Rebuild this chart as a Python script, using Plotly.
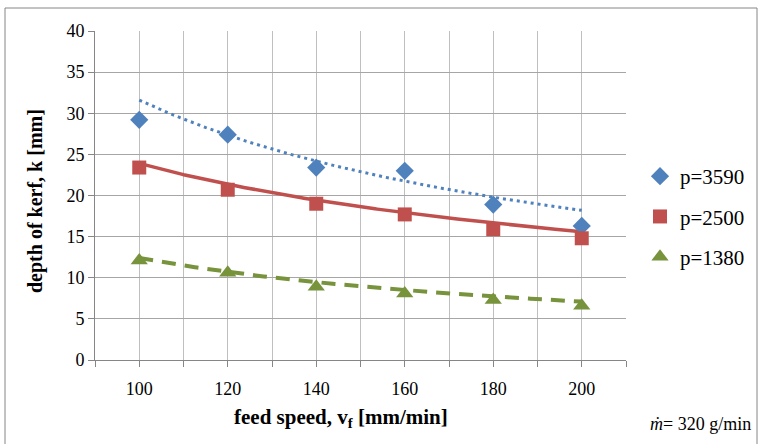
import numpy as np
import plotly.graph_objects as go

# ---- data ----
feed_speed = [100, 120, 140, 160, 180, 200]
p3590 = [29.2, 27.4, 23.4, 23.0, 18.9, 16.3]
p2500 = [23.4, 20.7, 19.0, 17.7, 15.9, 14.8]
p1380 = [12.1, 10.6, 8.9, 8.1, 7.3, 6.6]
series_names = ["p=3590", "p=2500", "p=1380"]
# power trendlines y = k100 * (x/100)^exp, coefficients
trend_k100 = [31.6, 23.9, 12.4]
trend_exp = [-0.796, -0.615, -0.804]
x_ticks = [100, 120, 140, 160, 180, 200]
y_ticks = [0, 5, 10, 15, 20, 25, 30, 35, 40]

W, H = 763, 444
ML, MR, MT, MB = 95, 137, 31, 84
serif = "Liberation Serif"

colors = ["#4F81BD", "#C0504D", "#77933C"]
symbols = ["diamond", "square", "triangle-up"]
sizes = [14, 14, 15]
line_styles = [dict(width=3, dash="3px,4px"), dict(width=3.5, dash="solid"),
               dict(width=4, dash="14px,9px")]

fig = go.Figure()
xs = np.linspace(min(feed_speed), max(feed_speed), 200)
for i in range(3):
    ys = trend_k100[i] * (xs / 100.0) ** trend_exp[i]
    fig.add_trace(go.Scatter(x=xs, y=ys, mode="lines", showlegend=False,
                             hoverinfo="skip",
                             line=dict(color=colors[i], **line_styles[i])))
for i, vals in enumerate([p3590, p2500, p1380]):
    fig.add_trace(go.Scatter(x=feed_speed, y=vals, mode="markers",
                             name=series_names[i], legendgroup=series_names[i],
                             marker=dict(color=colors[i], symbol=symbols[i],
                                         size=sizes[i], line=dict(width=0))))

plot_w = W - ML - MR
plot_h = H - MT - MB
def px2x(px):
    return (px - ML) / plot_w
def px2y(py):
    return 1 - (py - MT) / plot_h

fig.update_layout(
    width=W, height=H,
    margin=dict(l=ML, r=MR, t=MT, b=MB, autoexpand=False),
    paper_bgcolor="white", plot_bgcolor="white",
    font=dict(family=serif, size=18, color="black"),
    showlegend=True,
    legend=dict(x=px2x(640), xanchor="left", y=px2y(216.5), yanchor="middle",
                tracegroupgap=10, itemwidth=30,
                font=dict(family=serif, size=21, color="black"),
                bgcolor="rgba(0,0,0,0)"),
    xaxis=dict(range=[90, 210], tickvals=x_ticks, ticktext=[str(v) for v in x_ticks],
               ticks="", showgrid=True, gridcolor="#BFBFBF", gridwidth=1,
               showline=True, linecolor="#868686", linewidth=1,
               zeroline=False, ticklabelstandoff=12, automargin=False,
               tickfont=dict(family=serif, size=18),
               minor=dict(tick0=90, dtick=10, ticks="outside", ticklen=6,
                          tickcolor="#868686", showgrid=True,
                          gridcolor="#BFBFBF", gridwidth=1)),
    yaxis=dict(range=[0, 40], tickvals=y_ticks, ticks="outside", ticklen=6,
               tickcolor="#868686", showgrid=True, gridcolor="#A6A6A6",
               gridwidth=1, showline=True, linecolor="#868686", linewidth=1,
               zeroline=False, automargin=False, tickfont=dict(family=serif, size=18)),
    annotations=[
        dict(text="<b>feed speed, v<sub>f</sub> [mm/min]</b>", xref="paper", yref="paper",
             x=px2x(341), y=px2y(418), xanchor="center", yanchor="middle",
             showarrow=False, font=dict(family=serif, size=21, color="black")),
        dict(text="<b>depth of kerf, k [mm]</b>", xref="paper", yref="paper",
             x=px2x(35), y=px2y(201), xanchor="center", yanchor="middle", textangle=-90,
             showarrow=False, font=dict(family=serif, size=20, color="black")),
        dict(text="<i>ṁ</i>= 320 g/min", xref="paper", yref="paper",
             x=px2x(700), y=px2y(424), xanchor="center", yanchor="middle",
             showarrow=False, font=dict(family=serif, size=18, color="black")),
    ],
    shapes=[dict(type="rect", xref="paper", yref="paper",
                 x0=px2x(5), x1=px2x(757), y0=px2y(460), y1=px2y(8),
                 line=dict(color="#868686", width=1), layer="below")],
)

fig.write_html("out.html", config={"displayModeBar": False},
               post_script="document.body.style.margin='0px';document.body.style.overflow='hidden';")
